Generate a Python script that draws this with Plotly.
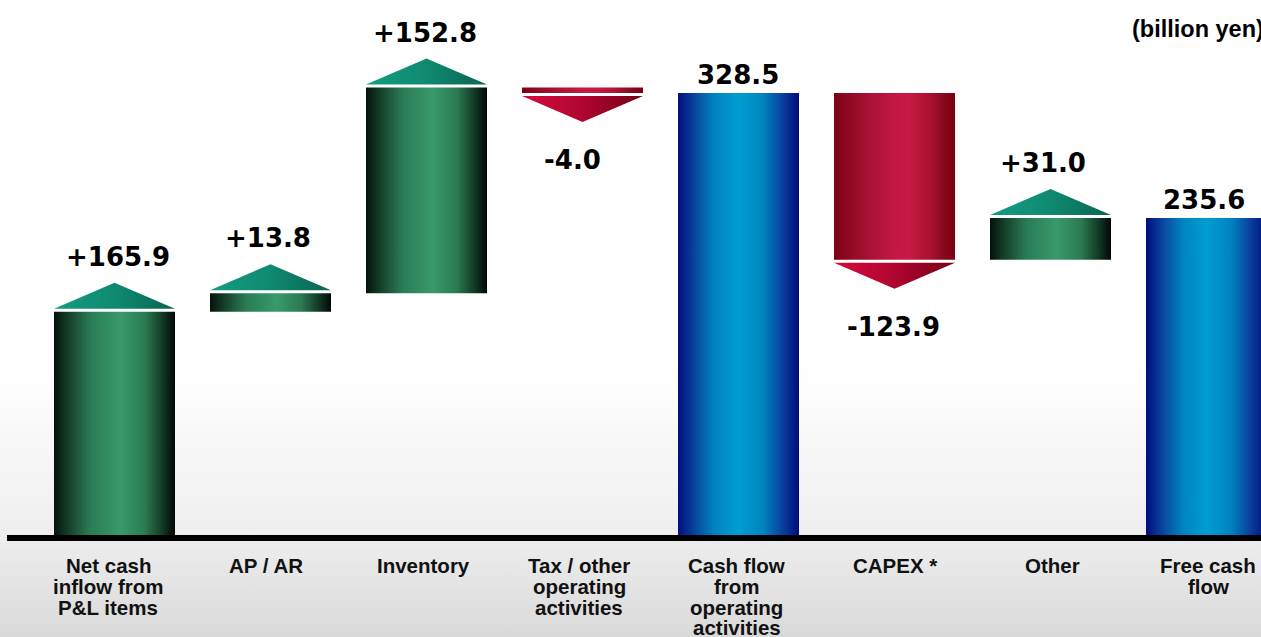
import plotly.graph_objects as go

# ---- data -------------------------------------------------------------
categories = [
    "Net cash\ninflow from\nP&L items",
    "AP / AR",
    "Inventory",
    "Tax / other\noperating\nactivities",
    "Cash flow\nfrom\noperating\nactivities",
    "CAPEX *",
    "Other",
    "Free cash\nflow",
]
values = [165.9, 13.8, 152.8, -4.0, 328.5, -123.9, 31.0, 235.6]
kinds = ["delta", "delta", "delta", "delta", "total", "delta", "delta", "total"]
unit_label = "(billion yen)"

# ---- page geometry (pixels) -------------------------------------------
W, H = 1261, 637
PX = 1.3455            # pixels per billion yen
ZERO_PX = 535          # baseline position from top
X0_PX, PITCH_PX = 114.5, 156
BAR_W_PX = 121
TRI_H_PX, TRI_GAP_PX = 26, 3
AXIS_LEFT_PX = 7
AXIS_THICK_PX = 6

y_top = ZERO_PX / PX
y_bot = -(H - ZERO_PX) / PX
x_left = -X0_PX / PITCH_PX
x_right = (W - X0_PX) / PITCH_PX
half = BAR_W_PX / 2 / PITCH_PX
tri_h = TRI_H_PX / PX
tri_gap = TRI_GAP_PX / PX

# ---- gradients --------------------------------------------------------
GREEN_BAR = [[0, "#03120b"], [0.12, "#15402a"], [0.3, "#2a7c54"], [0.55, "#389a6b"],
             [0.75, "#2b7b53"], [0.9, "#123824"], [1, "#020705"]]
GREEN_TRI = [[0, "#139d80"], [0.5, "#0f8a70"], [1, "#0a6451"]]
RED_BAR = [[0, "#7c0010"], [0.12, "#8f0a24"], [0.3, "#a91233"], [0.5, "#c41843"],
           [0.62, "#c71945"], [0.8, "#a8122f"], [0.9, "#8a0820"], [1, "#7a0010"]]
RED_TRI = [[0, "#d60a3d"], [0.5, "#b0062f"], [1, "#730018"]]
BLUE_BAR = [[0, "#000e80"], [0.15, "#0a4aa0"], [0.3, "#0083bf"], [0.5, "#009dd0"],
            [0.7, "#0084c0"], [0.85, "#0a45a0"], [1, "#000c7c"]]

VALUE_FONT = dict(family="DejaVu Sans", size=26, color="#000000")
CAT_FONT = dict(family="Liberation Sans, Arial", size=20.5, color="#111111")
# small horizontal nudges of the value labels and category names (pixels)
label_dx_px = [3, -3, -2, -10, -1, -1, -8, -3]
cat_dx_px = [-6.5, -5, -3, -3.5, -2, 0, 1.5, 1.5]

fig = go.Figure()

# page background: white fading to light grey at the bottom
fig.add_trace(go.Scatter(
    x=[x_left, x_right, x_right, x_left, x_left],
    y=[y_bot, y_bot, y_top, y_top, y_bot],
    mode="lines", line=dict(width=0), fill="toself",
    fillgradient=dict(type="vertical", start=y_bot, stop=y_top,
                      colorscale=[[0, "#d9d9d9"], [0.16, "#eeeeee"],
                                  [0.42, "#ffffff"], [1, "#ffffff"]]),
    hoverinfo="skip", showlegend=False,
))


def poly(xs, ys, scale, x0, x1):
    fig.add_trace(go.Scatter(
        x=xs, y=ys, mode="lines", line=dict(width=0), fill="toself",
        fillgradient=dict(type="horizontal", start=x0, stop=x1, colorscale=scale),
        hoverinfo="skip", showlegend=False,
    ))


annotations = []
running = 0.0
for i, (v, k) in enumerate(zip(values, kinds)):
    cx = i
    l, r = cx - half, cx + half
    if k == "total":
        base, top = 0.0, v
        running = v
        poly([l, r, r, l, l], [base, base, top, top, base], BLUE_BAR, l, r)
        text = f"{v:.1f}"
        ly = top + 18 / PX
    else:
        base, top = running, running + v
        running = top
        lo, hi = min(base, top), max(base, top)
        if v >= 0:
            poly([l, r, r, l, l], [lo, lo, hi, hi, lo], GREEN_BAR, l, r)
            tb = hi + tri_gap
            poly([l, r, cx, l], [tb, tb, tb + tri_h, tb], GREEN_TRI, l, r)
            ly = tb + tri_h + 26 / PX
        else:
            poly([l, r, r, l, l], [lo, lo, hi, hi, lo], RED_BAR, l, r)
            tb = lo - tri_gap
            poly([l, r, cx, l], [tb, tb, tb - tri_h, tb], RED_TRI, l, r)
            ly = tb - tri_h - 38 / PX
        text = f"{v:+.1f}"
    annotations.append(dict(
        x=cx + label_dx_px[i] / PITCH_PX, y=ly, xref="x", yref="y",
        text=f"<b>{text}</b>", showarrow=False, font=VALUE_FONT,
        xanchor="center", yanchor="middle",
    ))

# category names, one annotation per line for tight line spacing
LINE_PX = 20.8
FIRST_LINE_PX = 565.5
for i, name in enumerate(categories):
    for j, line in enumerate(name.split("\n")):
        py = FIRST_LINE_PX + j * LINE_PX
        annotations.append(dict(
            x=i + cat_dx_px[i] / PITCH_PX, y=1 - py / H, xref="x", yref="paper",
            text=f"<b>{line}</b>", showarrow=False, font=CAT_FONT,
            xanchor="center", yanchor="middle",
        ))

annotations.append(dict(
    x=1130 / W, y=1 - 29 / H, xref="paper", yref="paper",
    text=f"<b>{unit_label}</b>", showarrow=False,
    font=dict(family="Liberation Sans, Arial", size=23.5, color="#000000"),
    xanchor="left", yanchor="middle",
))

# baseline
fig.add_shape(type="rect", xref="x", yref="y",
              x0=(AXIS_LEFT_PX - X0_PX) / PITCH_PX, x1=x_right + 1,
              y0=-AXIS_THICK_PX / PX, y1=0,
              fillcolor="#000000", line=dict(width=0), layer="above")

fig.update_layout(
    width=W, height=H,
    margin=dict(l=0, r=0, t=0, b=0),
    paper_bgcolor="#ffffff", plot_bgcolor="#ffffff",
    xaxis=dict(range=[x_left, x_right], visible=False, fixedrange=True),
    yaxis=dict(range=[y_bot, y_top], visible=False, fixedrange=True),
    annotations=annotations,
    showlegend=False,
)

fig.write_html("out.html", config={"displayModeBar": False})
